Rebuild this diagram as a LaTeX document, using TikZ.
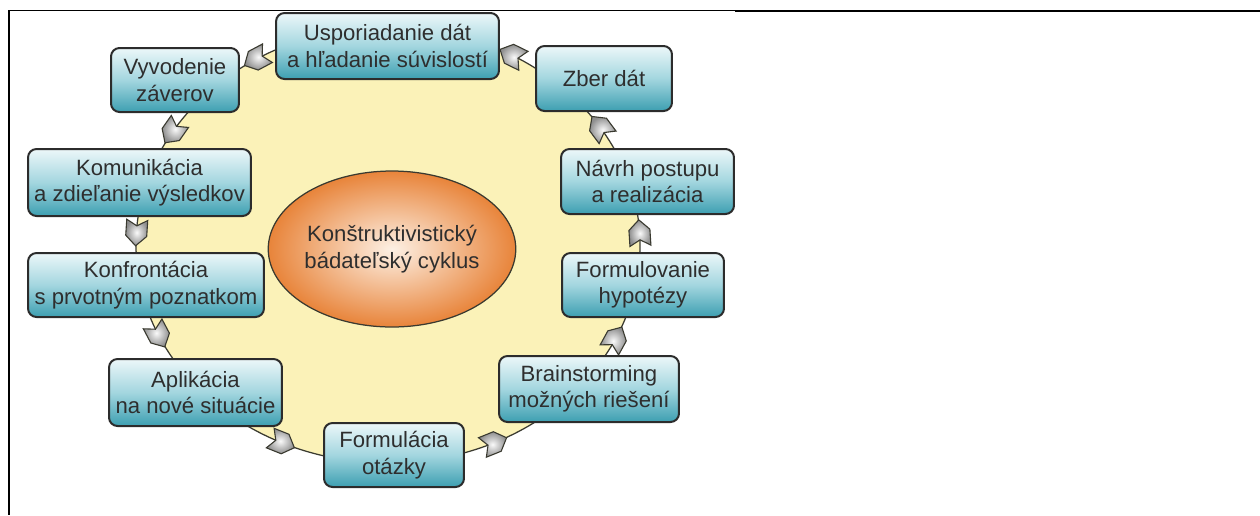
\documentclass[tikz,border=0pt]{standalone}
\usepackage{fontspec}
\setmainfont{Liberation Sans}
\usetikzlibrary{shapes.geometric}
\definecolor{ringyellow}{HTML}{FBF2B8}
\definecolor{ringline}{HTML}{3A3A30}
\definecolor{boxtop}{HTML}{ECF7F9}
\definecolor{boxmid}{HTML}{A3D6DF}
\definecolor{boxbot}{HTML}{3D9FB1}
\definecolor{boxline}{HTML}{2C2C2C}
\definecolor{txtgray}{HTML}{2E2E2E}
\definecolor{orin}{HTML}{FDF0E4}
\definecolor{orout}{HTML}{E8843A}
\definecolor{arrin}{HTML}{FAFAFA}
\definecolor{arrout}{HTML}{8E8E8E}
\begin{document}
\begin{tikzpicture}[x=0.02cm,y=0.02cm,
  stepbox/.style={draw=boxline, line width=0.04cm, rounded corners=0.17cm,
    top color=boxtop, bottom color=boxbot, middle color=boxmid,
    text=txtgray, font=\fontsize{12.6}{15}\selectfont, align=center,
    inner sep=0pt},
  centerell/.style={ellipse, draw=ringline, line width=0.025cm,
    inner color=orin, outer color=orout, text=txtgray,
    font=\fontsize{12.6}{15}\selectfont, align=center,
    minimum width=4.32cm, minimum height=3.12cm, inner sep=0pt},
  arrowshape/.style={draw=ringline, line width=0.022cm, line join=miter,
    inner color=arrin, outer color=arrout}]
\useasboundingbox (0,0) rectangle (1260,-515);
% frame lines
\draw[line width=0.026cm] (8,-10.5) -- (735,-10.5);
\draw[line width=0.05cm] (735,-11) -- (1260,-11);
\draw[line width=0.046cm] (9,-10) -- (9,-515);
% ring
\draw[fill=ringyellow, draw=ringline, line width=0.025cm] (388,-245) ellipse [x radius=252, y radius=218];
% center
\node[centerell] (center) at (392,-249) {Konštruktivistický\\bádateľský cyklus};
% arrows along the ring
\foreach \t [count=\i] in {295,334.6,3.2,32.8,60.6,121.6,148.8,176.8,204.5,245.2} {
  \pgfmathsetmacro\ax{388+252*cos(\t)}
  \pgfmathsetmacro\ay{-245+218*sin(\t)}
  \pgfmathsetmacro\ang{atan2(218*cos(\t),-252*sin(\t))}
  \coordinate (arr\i) at (\ax,\ay);
  \begin{scope}[shift={(arr\i)}, rotate=\ang]
    \draw[arrowshape] (-13,10.5) -- (3,10.5) -- (13,0) -- (3,-10.5) -- (-13,-10.5) -- (-7,0) -- cycle;
  \end{scope}
}
% boxes
\node[stepbox, minimum width=4.46cm, minimum height=1.32cm] (u) at (387.5,-46) {Usporiadanie dát\\a hľadanie súvislostí};
\node[stepbox, minimum width=2.72cm, minimum height=1.30cm] (z) at (604,-78.5) {Zber dát};
\node[stepbox, minimum width=3.46cm, minimum height=1.30cm] (n) at (647.5,-181.5) {Návrh postupu\\a realizácia};
\node[stepbox, minimum width=3.24cm, minimum height=1.28cm] (f) at (643,-285) {Formulovanie\\hypotézy};
\node[stepbox, minimum width=3.60cm, minimum height=1.32cm] (b) at (589,-389) {Brainstorming\\možných riešení};
\node[stepbox, minimum width=2.80cm, minimum height=1.28cm] (o) at (394,-455) {Formulácia\\otázky};
\node[stepbox, minimum width=3.46cm, minimum height=1.34cm] (a) at (195.5,-392.5) {Aplikácia\\na nové situácie};
\node[stepbox, minimum width=4.72cm, minimum height=1.28cm] (k) at (146,-285) {Konfrontácia\\s prvotným poznatkom};
\node[stepbox, minimum width=4.46cm, minimum height=1.34cm] (c) at (139.5,-182.5) {Komunikácia\\a zdieľanie výsledkov};
\node[stepbox, minimum width=2.56cm, minimum height=1.28cm] (v) at (175,-80) {Vyvodenie\\záverov};
\end{tikzpicture}
\end{document}
